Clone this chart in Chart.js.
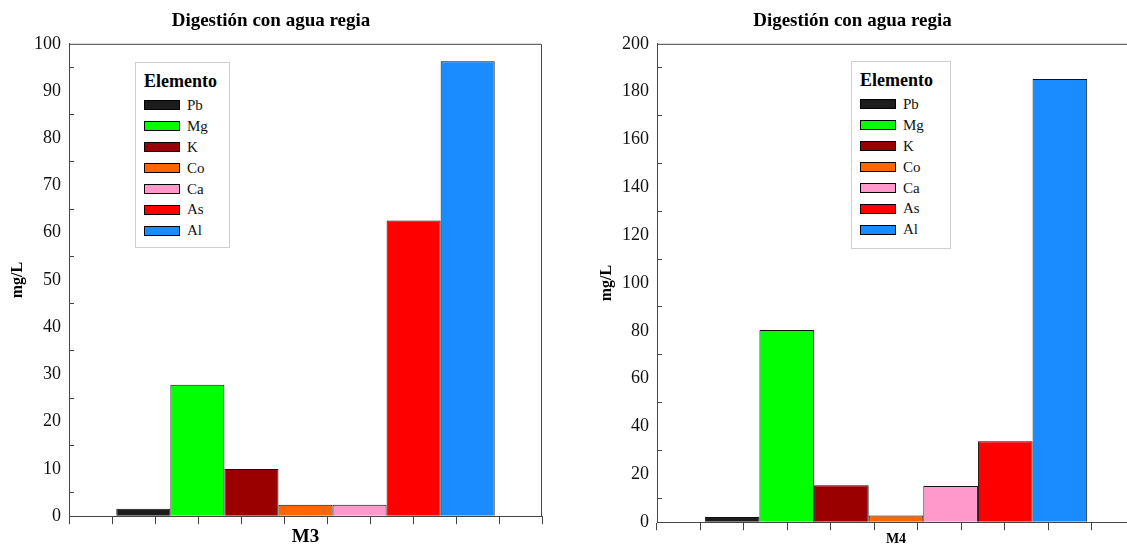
<!DOCTYPE html>
<html>
<head>
<meta charset="utf-8">
<title>Digestión con agua regia</title>
<script src="https://cdn.jsdelivr.net/npm/chart.js@4.4.1/dist/chart.umd.min.js"></script>
<style>
  html, body { margin: 0; padding: 0; background: #fff; overflow: hidden; }
  body { width: 1127px; height: 548px; position: relative; }
  canvas { position: absolute; top: 0; }
  #chartM3 { left: 0; }
  #chartM4 { left: 570px; }
  .legend {
    position: absolute;
    box-sizing: border-box;
    border: 1px solid #cfcfcf;
    background: #fff;
    padding: 6px 0 0 8px;
    font-family: "Liberation Serif", "Times New Roman", serif;
    color: #111;
  }
  .legend .head { font-weight: bold; font-size: 18px; line-height: 24px; height: 24px; margin-bottom: 2px; color: #000; }
  .legend .item { display: flex; align-items: center; height: 20.9px; font-size: 15px; }
  .legend .sw { width: 36px; height: 10px; box-sizing: border-box; border: 1px solid #000; margin-right: 7px; }
</style>
</head>
<body>
<canvas id="chartM3" width="548" height="548"></canvas>
<canvas id="chartM4" width="588" height="548"></canvas>
<div class="legend" id="legendM3" style="left:135px; top:62px; width:95px; height:186px;"></div>
<div class="legend" id="legendM4" style="left:851px; top:61px; width:100px; height:188px;"></div>

<script>
// Data
const chartTitle = "Digestión con agua regia";
const yLabel = "mg/L";
const legendTitle = "Elemento";
const elements = ["Pb", "Mg", "K", "Co", "Ca", "As", "Al"];
const colors = ["#1c1c1c", "#00ff00", "#9b0000", "#ff6600", "#ff99cc", "#ff0000", "#1a8cff"];

const valuesM3 = [1.6, 27.8, 10.0, 2.4, 2.4, 62.6, 96.3];
const valuesM4 = [2.2, 80.4, 15.4, 2.8, 15.1, 33.8, 185.3];

Chart.defaults.font.family = "'Liberation Serif', 'Times New Roman', serif";

// Draw the top (and optionally right) border of the plot box
const frame = {
  id: "frame",
  afterDraw(chart, args, opts) {
    const { ctx, chartArea: a } = chart;
    ctx.save();
    ctx.strokeStyle = "#444";
    ctx.lineWidth = 1;
    ctx.beginPath();
    ctx.moveTo(a.left, a.top + 0.5);
    ctx.lineTo(a.right - 0.5, a.top + 0.5);
    if (opts.right) ctx.lineTo(a.right - 0.5, a.bottom);
    ctx.stroke();
    ctx.restore();
  },
};

function makeChart(id, sample, values, yMax, yStep, yAxisWidth, yTitlePad, padRight, xTitleSize, rightBorder) {
  new Chart(document.getElementById(id), {
    type: "bar",
    data: {
      labels: [sample],
      datasets: elements.map((el, i) => ({
        label: el,
        data: [values[i]],
        backgroundColor: colors[i],
        borderColor: "#111",
        borderWidth: 1,
        categoryPercentage: 0.8,
        barPercentage: 1.0,
      })),
    },
    options: {
      responsive: false,
      animation: false,
      devicePixelRatio: 1,
      layout: { padding: { left: 0, right: padRight, top: 0, bottom: 0 } },
      plugins: {
        legend: { display: false },
        tooltip: { enabled: false },
        frame: { right: rightBorder },
        title: {
          display: true,
          text: chartTitle,
          color: "#000",
          font: { size: 19, weight: "bold" },
          padding: { top: 10, bottom: 11 },
        },
      },
      scales: {
        x: { type: "category", display: false },
        xt: {
          type: "linear",
          position: "bottom",
          min: 0,
          max: 10,
          ticks: { display: false, stepSize: 1 },
          grid: { drawOnChartArea: false, drawTicks: true, tickLength: 8, color: "#444" },
          border: { color: "#444" },
          title: {
            display: true,
            text: sample,
            color: "#000",
            font: { size: xTitleSize, weight: "bold" },
            padding: { top: 1, bottom: 0 },
          },
        },
        y: {
          min: 0,
          max: yMax,
          ticks: {
            stepSize: yStep,
            autoSkip: false,
            padding: 13,
            color: "#111",
            font: { size: 18 },
            callback: (v) => (v % (2 * yStep) === 0 ? v : ""),
          },
          grid: {
            drawOnChartArea: false,
            tickLength: -5,
            color: (ctx) =>
              ctx.tick && ctx.tick.value % (2 * yStep) !== 0 ? "#444" : "rgba(0,0,0,0)",
          },
          border: { color: "#444" },
          title: {
            display: true,
            text: yLabel,
            color: "#000",
            font: { size: 16, weight: "bold" },
            padding: { top: yTitlePad, bottom: 4 },
          },
          afterFit: (s) => {
            s.width = yAxisWidth;
          },
        },
      },
    },
    plugins: [frame],
  });
}

function makeLegend(id) {
  const box = document.getElementById(id);
  const head = document.createElement("div");
  head.className = "head";
  head.textContent = legendTitle;
  box.appendChild(head);
  elements.forEach((el, i) => {
    const item = document.createElement("div");
    item.className = "item";
    const sw = document.createElement("span");
    sw.className = "sw";
    sw.style.background = colors[i];
    const txt = document.createElement("span");
    txt.textContent = el;
    item.appendChild(sw);
    item.appendChild(txt);
    box.appendChild(item);
  });
}

makeChart("chartM3", "M3", valuesM3, 100, 5, 69, 8, 6, 19, true);
makeChart("chartM4", "M4", valuesM4, 200, 10, 87, 27, 23, 14, false);
makeLegend("legendM3");
makeLegend("legendM4");
</script>
</body>
</html>
